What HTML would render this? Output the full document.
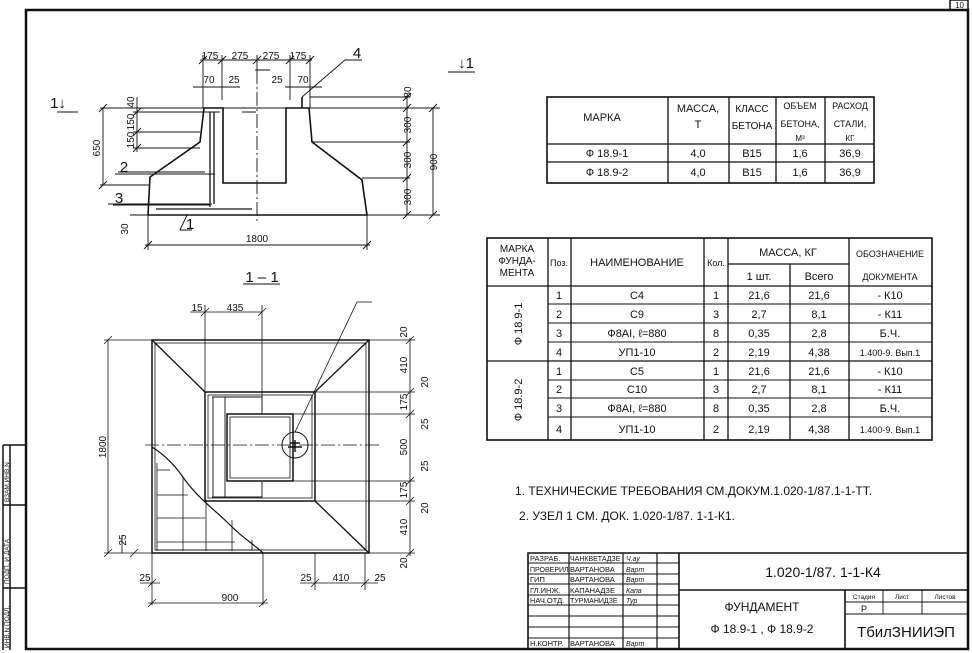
<!DOCTYPE html>
<html><head><meta charset="utf-8"><style>
html,body{margin:0;padding:0;background:#fff;}
svg{display:block;}
text{font-family:"Liberation Sans","DejaVu Sans",sans-serif;fill:#111;}
</style></head><body>
<svg width="972" height="653" viewBox="0 0 972 653" xmlns="http://www.w3.org/2000/svg">
<g stroke="#111" fill="none">
<rect x="26" y="10" width="942" height="639" stroke-width="2.5"/>
<rect x="950" y="0" width="18" height="10" stroke-width="1.5"/>
<path d="M3 445H26M3 445V650M3 505H26M3 588H26M10 445V650" stroke-width="1.5"/>
</g>
<text x="964" y="8" font-size="8" text-anchor="end">10</text>
<g font-size="6.5">
<text transform="translate(9,502) rotate(-90)">ВЗАМ.ИНВ.N</text>
<text transform="translate(9,584) rotate(-90)">ПОДП. И ДАТА</text>
<text transform="translate(9,648) rotate(-90)">ИНВ.N ПОДЛ.</text>
</g>

<!-- SECTION 1-1 -->
<g stroke="#111" fill="none" stroke-width="1.6">
<path d="M148 215L150 177L200 142L204 108H223V183H257"/>
<path d="M257 183H286V108H309L312 142L362 180L367 215H148"/>
<path d="M302 108V97"/>
</g>
<g stroke="#111" fill="none" stroke-width="0.9">
<path d="M257 70V222" stroke-dasharray="14 3 2 3"/>
<path d="M255 70H270M242 112H256"/>
<path d="M210 112V207M214 112V204M156 209H252" stroke-width="1.3"/>
<path d="M407 97V215M433 108V215M310 97H410M206 108H440M312 142H410M362 178H410M367 215H440"/>
<path d="M403 101L411 93M403 112L411 104M403 146L411 138M403 182L411 174M403 219L411 211M429 112L437 104M429 219L437 211"/>
<path d="M103 108V185M137 97V152M100 108H206M100 185H150M133 112H220M133 132H200M133 148H200M118 172H205M113 205H210"/>
<path d="M99 112L107 104M99 189L107 181M133 116L141 108M133 136L141 128M133 152L141 144"/>
<path d="M148 215V250M367 215V250M145 245H370M130 215H148"/>
<path d="M144 249L152 241M363 249L371 241"/>
<path d="M200 60H312M203 55V108M222 55V100M257 55V70M290 55V100M310 55V108M193 87H240M285 87H322"/>
<path d="M199 64L207 56M218 64L226 56M253 64L261 56M286 64L294 56M306 64L314 56"/>
<path d="M345 60H362M345 60L302 97M115 174H215M108 204H212M180 230H192M180 230L187 215"/>
<path d="M57 112H78M448 72H475M243 284H280"/>
</g>
<g font-size="10" text-anchor="middle">
<text x="210" y="59">175</text><text x="240" y="59">275</text><text x="271" y="59">275</text><text x="298" y="59">175</text>
<text x="209" y="83">70</text><text x="234" y="83">25</text><text x="277" y="83">25</text><text x="303" y="83">70</text>
<text x="257" y="242">1800</text>
<text transform="translate(411,92) rotate(-90)">80</text>
<text transform="translate(411,125) rotate(-90)">300</text>
<text transform="translate(411,160) rotate(-90)">300</text>
<text transform="translate(411,197) rotate(-90)">300</text>
<text transform="translate(437,162) rotate(-90)">900</text>
<text transform="translate(100,148) rotate(-90)">650</text>
<text transform="translate(134,102) rotate(-90)">40</text>
<text transform="translate(134,122) rotate(-90)">150</text>
<text transform="translate(134,140) rotate(-90)">150</text>
<text transform="translate(128,229) rotate(-90)">30</text>
</g>
<g font-size="15" text-anchor="middle">
<text x="357" y="58">4</text><text x="124" y="172">2</text><text x="119" y="203">3</text><text x="190" y="229">1</text>
<text x="262" y="282">1 – 1</text>
<text x="58" y="108">1↓</text><text x="466" y="68">↓1</text>
</g>

<!-- PLAN -->
<g stroke="#111" fill="none" stroke-width="1.5">
<rect x="152" y="340" width="217" height="213"/>
<rect x="155" y="343" width="211" height="207" stroke-width="0.8"/>
<rect x="205" y="392" width="110" height="109"/>
<rect x="208" y="395" width="104" height="103" stroke-width="0.8"/>
<rect x="227" y="414" width="66" height="67"/>
<rect x="230" y="417" width="60" height="61" stroke-width="0.8"/>
<path d="M212 397H262V412M212 497H262V482M213 397V497M225 397V497" stroke-width="0.9"/>
<path d="M152 340L205 392M369 340L315 392M369 553L315 501" stroke-width="1.3"/>
<path d="M152 447C165 455 175 465 185 480C200 500 215 510 230 525C245 540 255 545 263 553" stroke-width="1.2"/>
<circle cx="295" cy="445" r="13" stroke-width="1"/>
</g>
<g stroke="#111" fill="none" stroke-width="0.8">
<path d="M157 463V551M183 478V551M206 500V551M232 520V551M252 540V551M157 470H170M157 495H188M157 518H205M157 542H235M157 550H262"/>
<path d="M145 445H380" stroke-dasharray="14 3 2 3"/>
<path d="M288 447H302M295 440V452M290 443H300" stroke-width="1.4"/>
<path d="M295 432L357 302H372"/>
<path d="M108 340V553M104 340H152M104 553H152M104 344L112 336M104 557L112 549"/>
<path d="M410 338V556M369 340H415M315 392H415M293 414H415M293 481H415M315 501H415M369 553H415"/>
<path d="M406 344L414 336M406 396L414 388M406 418L414 410M406 485L414 477M406 505L414 497M406 557L414 549"/>
<path d="M190 312H262M205 305V392M262 305V414M201 316L209 308M258 316L266 308"/>
<path d="M152 553V605M263 553V605M148 603H268M148 607L156 599M259 607L267 599M140 583H160M148 587L156 579"/>
<path d="M300 583H378M315 553V590M365 553V590M311 587L319 579M361 587L369 579"/>
<path d="M122 553V535M130 557L138 549"/>
</g>
<g font-size="10" text-anchor="middle">
<text x="197" y="311">15</text><text x="235" y="311">435</text>
<text x="230" y="601">900</text><text x="145" y="581">25</text>
<text x="306" y="581">25</text><text x="341" y="581">410</text><text x="380" y="581">25</text>
<text transform="translate(106,447) rotate(-90)">1800</text>
<text transform="translate(126,540) rotate(-90)">25</text>
<text transform="translate(407,332) rotate(-90)">20</text>
<text transform="translate(407,365) rotate(-90)">410</text>
<text transform="translate(428,382) rotate(-90)">20</text>
<text transform="translate(407,402) rotate(-90)">175</text>
<text transform="translate(428,424) rotate(-90)">25</text>
<text transform="translate(407,447) rotate(-90)">500</text>
<text transform="translate(428,466) rotate(-90)">25</text>
<text transform="translate(407,490) rotate(-90)">175</text>
<text transform="translate(428,508) rotate(-90)">20</text>
<text transform="translate(407,527) rotate(-90)">410</text>
<text transform="translate(407,563) rotate(-90)">20</text>
</g>

<!-- TABLE 1 -->
<g stroke="#111" fill="none" stroke-width="1.6">
<rect x="547" y="97" width="327" height="86"/>
<path d="M668 97V183M729 97V183M776 97V183M825 97V183M547 144H874M547 162H874" stroke-width="1.3"/>
</g>
<g font-size="11" text-anchor="middle">
<text x="602" y="121">МАРКА</text>
<text x="698" y="112">МАССА,</text><text x="698" y="128">Т</text>
<text x="752" y="112" font-size="10">КЛАСС</text><text x="752" y="129" font-size="10">БЕТОНА</text>
<text x="800" y="109" font-size="9">ОБЪЕМ</text><text x="800" y="127" font-size="9">БЕТОНА,</text><text x="800" y="141" font-size="8">М³</text>
<text x="850" y="109" font-size="9">РАСХОД</text><text x="850" y="127" font-size="9">СТАЛИ,</text><text x="850" y="141" font-size="8">КГ</text>
<text x="607" y="157">Ф 18.9-1</text><text x="698" y="157">4,0</text><text x="752" y="157">В15</text><text x="800" y="157">1,6</text><text x="850" y="157">36,9</text>
<text x="607" y="176">Ф 18.9-2</text><text x="698" y="176">4,0</text><text x="752" y="176">В15</text><text x="800" y="176">1,6</text><text x="850" y="176">36,9</text>
</g>

<!-- TABLE 2 -->
<g stroke="#111" fill="none" stroke-width="1.6">
<rect x="487" y="238" width="445" height="202"/>
<path d="M548 238V440M571 238V440M704 238V440M728 238V440M790 264V440M849 238V440M728 264H849M487 286H932M487 361H932" stroke-width="1.3"/>
<path d="M548 304H932M548 323H932M548 342H932M548 380H932M548 398H932M548 417H932" stroke-width="1.1"/>
</g>
<g font-size="11" text-anchor="middle">
<text x="517" y="252" font-size="10">МАРКА</text><text x="517" y="264" font-size="10">ФУНДА-</text><text x="517" y="276" font-size="10">МЕНТА</text>
<text x="559" y="266" font-size="9">Поз.</text>
<text x="637" y="266">НАИМЕНОВАНИЕ</text>
<text x="716" y="266" font-size="9">Кол.</text>
<text x="788" y="256">МАССА, КГ</text>
<text x="759" y="280">1 шт.</text><text x="819" y="280">Всего</text>
<text x="890" y="257" font-size="9">ОБОЗНАЧЕНИЕ</text><text x="890" y="280" font-size="9">ДОКУМЕНТА</text>
<text transform="translate(522,324) rotate(-90)">Ф 18.9-1</text>
<text transform="translate(522,400) rotate(-90)">Ф 18.9-2</text>
<text x="559" y="299">1</text><text x="637" y="299">С4</text><text x="716" y="299">1</text><text x="759" y="299">21,6</text><text x="819" y="299">21,6</text><text x="890" y="299">- К10</text>
<text x="559" y="318">2</text><text x="637" y="318">С9</text><text x="716" y="318">3</text><text x="759" y="318">2,7</text><text x="819" y="318">8,1</text><text x="890" y="318">- К11</text>
<text x="559" y="337">3</text><text x="637" y="337">Ф8АI, ℓ=880</text><text x="716" y="337">8</text><text x="759" y="337">0,35</text><text x="819" y="337">2,8</text><text x="890" y="337">Б.Ч.</text>
<text x="559" y="356">4</text><text x="637" y="356">УП1-10</text><text x="716" y="356">2</text><text x="759" y="356">2,19</text><text x="819" y="356">4,38</text><text x="890" y="356" font-size="9">1.400-9. Вып.1</text>
<text x="559" y="375">1</text><text x="637" y="375">С5</text><text x="716" y="375">1</text><text x="759" y="375">21,6</text><text x="819" y="375">21,6</text><text x="890" y="375">- К10</text>
<text x="559" y="393">2</text><text x="637" y="393">С10</text><text x="716" y="393">3</text><text x="759" y="393">2,7</text><text x="819" y="393">8,1</text><text x="890" y="393">- К11</text>
<text x="559" y="412">3</text><text x="637" y="412">Ф8АI, ℓ=880</text><text x="716" y="412">8</text><text x="759" y="412">0,35</text><text x="819" y="412">2,8</text><text x="890" y="412">Б.Ч.</text>
<text x="559" y="433">4</text><text x="637" y="433">УП1-10</text><text x="716" y="433">2</text><text x="759" y="433">2,19</text><text x="819" y="433">4,38</text><text x="890" y="433" font-size="9">1.400-9. Вып.1</text>
</g>

<text x="515" y="495" font-size="12">1. ТЕХНИЧЕСКИЕ ТРЕБОВАНИЯ СМ.ДОКУМ.1.020-1/87.1-1-ТТ.</text>
<text x="519" y="520" font-size="12">2. УЗЕЛ 1 СМ. ДОК. 1.020-1/87. 1-1-К1.</text>

<!-- TITLE BLOCK -->
<g stroke="#111" fill="none" stroke-width="1.6">
<path d="M528 649V553H968M679 553V649M679 590H968M845 590V649M528 553H679"/>
<path d="M569 553V649M623 553V649M657 553V649" stroke-width="1.2"/>
<path d="M528 563H679M528 574H679M528 584H679M528 595H679M528 605H679M528 616H679M528 627H679M528 638H679" stroke-width="0.9"/>
<path d="M845 602H968M845 614H968M883 590V614M922 590V614" stroke-width="0.9"/>
</g>
<g font-size="7.5">
<text x="530" y="561">РАЗРАБ.</text><text x="570" y="561" font-size="7">ЧАНКВЕТАДЗЕ</text>
<text x="530" y="572" font-size="7">ПРОВЕРИЛ</text><text x="570" y="572">ВАРТАНОВА</text>
<text x="530" y="582">ГИП</text><text x="570" y="582">ВАРТАНОВА</text>
<text x="530" y="593">ГЛ.ИНЖ.</text><text x="570" y="593">КАПАНАДЗЕ</text>
<text x="530" y="603">НАЧ.ОТД.</text><text x="570" y="603" font-size="7">ТУРМАНИДЗЕ</text>
<text x="530" y="646">Н.КОНТР.</text><text x="570" y="646">ВАРТАНОВА</text>
</g>
<g font-size="7" font-style="italic" fill="#333">
<text x="626" y="561">Ч.ау</text><text x="626" y="572">Варт</text><text x="626" y="582">Варт</text><text x="626" y="593">Капа</text><text x="626" y="603">Тур</text><text x="626" y="646">Варт</text>
</g>
<text x="823" y="577" font-size="14" text-anchor="middle">1.020-1/87. 1-1-К4</text>
<text x="762" y="611" font-size="12" text-anchor="middle">ФУНДАМЕНТ</text>
<text x="762" y="633" font-size="12" text-anchor="middle">Ф 18.9-1 , Ф 18.9-2</text>
<g font-size="6.5" text-anchor="middle"><text x="864" y="599">Стадия</text><text x="902" y="599">Лист</text><text x="945" y="599">Листов</text></g>
<text x="864" y="612" font-size="9" text-anchor="middle">Р</text>
<text x="906" y="637" font-size="15" text-anchor="middle">ТбилЗНИИЭП</text>
</svg>
</body></html>
